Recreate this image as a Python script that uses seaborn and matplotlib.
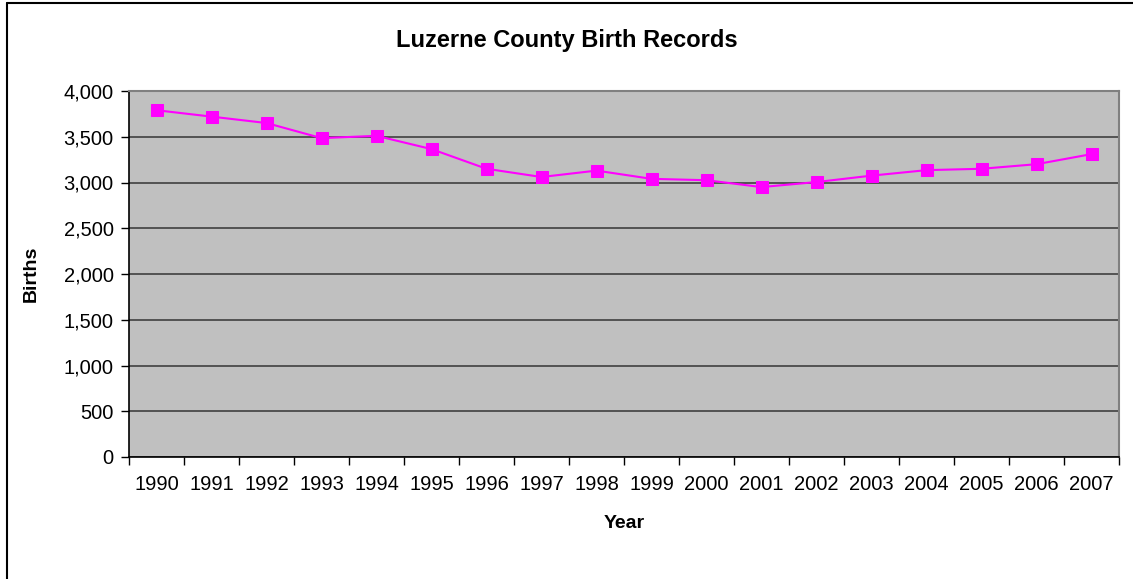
import numpy as np
import pandas as pd
import seaborn as sns
from matplotlib import pyplot as plt
from matplotlib.ticker import FuncFormatter

years = list(range(1990, 2008))
births = [3790, 3720, 3650, 3485, 3510, 3365, 3150, 3060, 3130, 3040,
          3025, 2950, 3005, 3075, 3135, 3150, 3200, 3310]

sns.set_style("white", {"text.color": "black", "xtick.color": "black",
                        "ytick.color": "black", "axes.labelcolor": "black"})
plt.rcParams['font.family'] = ['Liberation Sans', 'DejaVu Sans']

df = pd.DataFrame({"year": years, "births": births})

fig = plt.figure(figsize=(11.33, 5.79), dpi=100)
ax = fig.add_axes([129 / 1133, 1 - 457 / 579, (1119 - 129) / 1133, (457 - 91) / 579])
ax.set_facecolor("#C0C0C0")

sns.lineplot(data=df, x="year", y="births", ax=ax, color="#FF00FF", linewidth=1.5,
             marker="s", markersize=8, markeredgecolor="#FF00FF", zorder=3)

ax.set_xlim(years[0] - 0.5, years[-1] + 0.5)
ax.set_ylim(0, 4000)
ax.set_yticks(np.arange(0, 4001, 500))
ax.yaxis.set_major_formatter(FuncFormatter(lambda v, p: f"{int(v):,}"))
ax.grid(axis="y", color="#404040", linewidth=1.2)
ax.set_axisbelow(True)

# category boundaries carry the ticks, labels sit at the centres
ax.set_xticks(np.arange(years[0] - 0.5, years[-1] + 1, 1))
ax.set_xticklabels([])
ax.set_xticks(years, minor=True)
ax.set_xticklabels([str(y) for y in years], minor=True)
ax.tick_params(axis="x", which="major", direction="out", length=6, width=1, color="black", bottom=True)
ax.tick_params(axis="x", which="minor", length=0, pad=13, labelsize=14.5, labelcolor="black")
ax.tick_params(axis="y", direction="out", length=6, width=1, color="black", left=True,
               labelsize=14.5, pad=5, labelcolor="black")

for s in ["left", "bottom"]:
    ax.spines[s].set_color("black")
    ax.spines[s].set_linewidth(1.2)
for s in ["top", "right"]:
    ax.spines[s].set_color("#808080")
    ax.spines[s].set_linewidth(1.5)

ax.set_xlabel("Year", fontsize=14, fontweight="bold", labelpad=15, color="black")
ax.set_ylabel("Births", fontsize=14, fontweight="bold", labelpad=17, color="black")
fig.text(0.5, 1 - 40 / 579, "Luzerne County Birth Records", ha="center", va="center",
         fontsize=17, fontweight="bold", color="black")

# chart frame (only top and left visible in the crop)
fig.add_artist(plt.Line2D([7 / 1133, 7 / 1133], [0, 1 - 3 / 579], color="black", linewidth=1.5))
fig.add_artist(plt.Line2D([7 / 1133, 1], [1 - 3 / 579, 1 - 3 / 579], color="black", linewidth=1.5))

fig.savefig("out.png", dpi=100)
